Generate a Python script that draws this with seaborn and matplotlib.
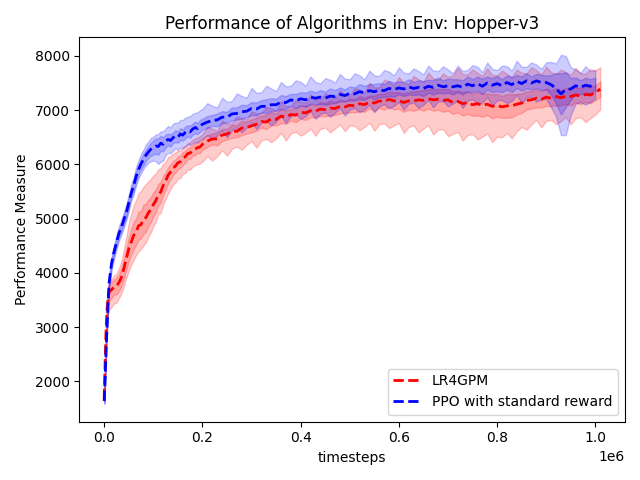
import numpy as np
import matplotlib
matplotlib.use("Agg")
import matplotlib.pyplot as plt
import seaborn as sns

# timesteps (in thousands): fine grid early, 10k spacing later
steps_k = [0, 2, 4, 6, 8, 10,
           15, 20, 25, 30, 35, 40, 45, 50, 55, 60, 65, 70, 75, 80, 85, 90, 95, 100,
           105, 110, 115, 120, 125, 130, 135, 140, 145, 150, 155, 160, 165, 170, 175,
           180, 185, 190, 195, 200,
           210, 220, 230, 240, 250, 260, 270, 280, 290, 300,
           310, 320, 330, 340, 350, 360, 370, 380, 390, 400,
           410, 420, 430, 440, 450, 460, 470, 480, 490, 500,
           510, 520, 530, 540, 550, 560, 570, 580, 590, 600,
           610, 620, 630, 640, 650, 660, 670, 680, 690, 700,
           710, 720, 730, 740, 750, 760, 770, 780, 790, 800,
           810, 820, 830, 840, 850, 860, 870, 880, 890, 900,
           910, 920, 930, 940, 950, 960, 970, 980, 990, 1000, 1010]

# ---------------- LR4GPM (red) ----------------
lr4gpm_mean = [1680, 2420, 3010, 3360, 3560, 3650,
               3690, 3740, 3760, 3820, 3920, 4080, 4260, 4440, 4570, 4690, 4760, 4870, 4890,
               4990, 5020, 5110, 5170, 5260,
               5330, 5440, 5490, 5610, 5690, 5800, 5860, 5930, 5970, 6030, 6050, 6110, 6140,
               6200, 6210, 6260, 6280, 6310, 6320, 6370,
               6430, 6470, 6470, 6540, 6560, 6610, 6610, 6670, 6680, 6710,
               6740, 6790, 6780, 6840, 6830, 6890, 6870, 6920, 6910, 6960,
               6950, 6990, 6980, 7020, 7010, 7040, 7030, 7070, 7060, 7090,
               7080, 7120, 7100, 7150, 7130, 7170, 7160, 7200, 7170, 7180,
               7140, 7170, 7170, 7190, 7180, 7210, 7190, 7200, 7180, 7190,
               7140, 7160, 7120, 7140, 7100, 7120, 7090, 7110, 7070, 7090,
               7060, 7080, 7080, 7110, 7130, 7180, 7190, 7220, 7200, 7240,
               7220, 7250, 7230, 7260, 7250, 7280, 7260, 7290, 7280, 7320, 7390]
lr4gpm_lo = [60, 150, 250, 300, 320, 330,
             320, 300, 310, 280, 300, 320, 350, 400, 420, 450, 430, 470, 450, 480, 460, 440,
             420, 400,
             380, 360, 380, 350, 330, 340, 320, 300, 310, 290, 300, 280, 300, 290, 310, 300,
             290, 310, 300, 320,
             280, 400, 320, 280, 400, 320, 280, 400, 320, 280,
             430, 350, 310, 430, 350, 310, 430, 350, 310, 430,
             370, 330, 450, 370, 330, 450, 370, 330, 450, 370,
             370, 490, 410, 380, 510, 430, 400, 530, 450, 420,
             560, 480, 450, 600, 520, 490, 640, 560, 530, 670,
             580, 560, 680, 600, 540, 660, 580, 540, 660, 580,
             560, 500, 600, 500, 440, 540, 450, 400, 520, 440,
             400, 510, 430, 390, 510, 430, 390, 510, 430, 400, 380]
lr4gpm_hi = [60, 150, 200, 200, 200, 200,
             200, 210, 230, 260, 300, 350, 400, 480, 520, 560, 580, 600, 620, 600, 620, 580,
             560, 540,
             500, 470, 440, 400, 360, 330, 300, 270, 250, 230, 210, 200, 200, 190, 200, 190,
             200, 190, 200, 190,
             270, 190, 150, 270, 190, 150, 270, 190, 150, 270,
             200, 160, 280, 200, 160, 280, 200, 160, 280, 200,
             180, 300, 220, 180, 300, 220, 180, 300, 220, 180,
             320, 260, 220, 360, 290, 250, 400, 330, 290, 430,
             360, 320, 460, 380, 340, 480, 400, 360, 500, 420,
             500, 620, 540, 520, 650, 570, 540, 660, 580, 550,
             670, 590, 530, 640, 560, 500, 600, 520, 460, 560,
             480, 420, 520, 440, 400, 500, 420, 380, 480, 410, 400]
lr4gpm_inner = [40, 80, 120, 140, 150, 150,
                150, 140, 150, 160, 170, 180, 200, 220, 230, 250, 240, 260, 250, 270, 260, 240,
                230, 220,
                210, 200, 190, 170, 160, 150, 140, 130, 120, 120, 110, 120, 110, 100, 110, 100,
                110, 100, 110, 100,
                110, 100, 120, 110, 100, 120, 110, 130, 110, 120,
                120, 110, 130, 120, 110, 130, 120, 110, 130, 120,
                130, 120, 110, 130, 120, 140, 120, 130, 110, 130,
                120, 140, 130, 120, 140, 130, 150, 140, 160, 150,
                170, 160, 180, 170, 190, 180, 200, 190, 210, 200,
                210, 200, 220, 210, 200, 220, 210, 200, 220, 210,
                200, 220, 210, 190, 180, 170, 160, 170, 150, 160,
                150, 160, 140, 150, 160, 140, 150, 140, 150, 140, 140]

# ---------------- PPO with standard reward (blue) ----------------
ppo_mean = [1640, 2080, 2620, 3060, 3480, 3820,
            4180, 4390, 4560, 4730, 4840, 4980, 5110, 5290, 5470, 5610, 5780, 5910, 6010,
            6090, 6170, 6230, 6280, 6310,
            6340, 6330, 6390, 6370, 6430, 6460, 6440, 6490, 6520, 6500, 6560, 6540, 6590,
            6620, 6600, 6650, 6680, 6660, 6710, 6740,
            6780, 6810, 6820, 6870, 6870, 6930, 6940, 6970, 6980, 7030,
            7020, 7070, 7070, 7100, 7100, 7150, 7140, 7190, 7170, 7210,
            7190, 7240, 7220, 7240, 7220, 7260, 7250, 7290, 7270, 7310,
            7300, 7340, 7320, 7360, 7340, 7370, 7360, 7400, 7380, 7410,
            7390, 7430, 7400, 7420, 7400, 7440, 7420, 7460, 7430, 7450,
            7430, 7450, 7420, 7480, 7450, 7490, 7440, 7500, 7460, 7490,
            7450, 7510, 7470, 7530, 7490, 7540, 7500, 7540, 7510, 7510,
            7470, 7400, 7300, 7380, 7390, 7450, 7420, 7460, 7440, 7480]
ppo_lo = [60, 80, 100, 100, 120, 130,
          120, 130, 120, 140, 130, 150, 140, 150, 140, 160, 170, 160, 180, 170, 190, 200,
          220, 240,
          280, 320, 340, 300, 260, 250, 230, 240, 220, 230, 250, 240, 260, 250, 240, 260,
          270, 250, 260, 270,
          240, 360, 290, 250, 370, 300, 260, 380, 300, 250,
          370, 300, 260, 380, 310, 260, 380, 300, 250, 370,
          300, 260, 380, 310, 260, 380, 300, 250, 370, 300,
          260, 380, 310, 260, 380, 300, 250, 370, 300, 260,
          380, 310, 260, 380, 300, 250, 370, 300, 260, 380,
          310, 260, 380, 300, 250, 370, 300, 260, 380, 310,
          260, 380, 300, 250, 370, 300, 260, 380, 310, 300,
          420, 520, 760, 840, 480, 330, 270, 360, 290, 260]
ppo_hi = [60, 80, 100, 110, 120, 130,
          130, 120, 140, 130, 150, 140, 160, 150, 170, 160, 180, 170, 190, 180, 200, 190,
          210, 200,
          210, 230, 220, 240, 230, 250, 240, 260, 250, 270, 260, 280, 270, 260, 290, 280,
          270, 300, 290, 280,
          350, 270, 230, 360, 280, 240, 370, 290, 250, 380,
          300, 260, 380, 300, 250, 370, 300, 260, 380, 310,
          260, 380, 300, 250, 370, 300, 260, 380, 310, 260,
          380, 300, 250, 370, 300, 260, 380, 310, 260, 380,
          300, 250, 370, 300, 260, 380, 310, 260, 380, 300,
          250, 370, 300, 260, 380, 310, 260, 380, 300, 250,
          370, 300, 260, 380, 310, 260, 380, 300, 250, 370,
          420, 460, 720, 620, 400, 300, 270, 350, 280, 260]
ppo_inner = [40, 50, 60, 60, 70, 70,
             70, 70, 80, 70, 80, 80, 90, 90, 80, 90, 100, 90, 100, 110, 100, 110,
             120, 130,
             140, 150, 140, 130, 120, 110, 110, 100, 110, 100, 110, 100, 110, 100, 110, 100,
             110, 100, 110, 100,
             110, 100, 120, 110, 100, 120, 110, 130, 110, 120,
             120, 110, 130, 120, 110, 130, 120, 110, 130, 120,
             130, 120, 110, 130, 120, 140, 120, 130, 110, 130,
             120, 140, 130, 120, 140, 130, 120, 140, 130, 120,
             130, 140, 120, 130, 140, 120, 130, 140, 120, 130,
             140, 120, 130, 140, 120, 130, 140, 120, 130, 140,
             120, 130, 140, 120, 130, 140, 120, 130, 140, 130,
             180, 280, 380, 320, 200, 150, 130, 140, 130, 120]

series = [
    ("LR4GPM", "red", lr4gpm_mean, lr4gpm_lo, lr4gpm_hi, lr4gpm_inner),
    ("PPO with standard reward", "blue", ppo_mean, ppo_lo, ppo_hi, ppo_inner),
]

fig, ax = plt.subplots(figsize=(6.4, 4.8), dpi=100)

for name, color, mean, lo, hi, inner in series:
    mean = np.array(mean)
    x = np.array(steps_k[:len(mean)]) * 1000
    # outer spread and inner spread around the mean
    ax.fill_between(x, mean - np.array(lo), mean + np.array(hi), color=color, alpha=0.2)
    ax.fill_between(x, mean - np.array(inner), mean + np.array(inner), color=color, alpha=0.2)
    sns.lineplot(x=x, y=mean, color=color, linestyle="--", linewidth=2, label=name, ax=ax)

ax.set_title("Performance of Algorithms in Env: Hopper-v3")
ax.set_xlabel("timesteps")
ax.set_ylabel("Performance Measure")
ax.legend(loc="lower right")

plt.tight_layout()
plt.savefig("out.png", dpi=100)
